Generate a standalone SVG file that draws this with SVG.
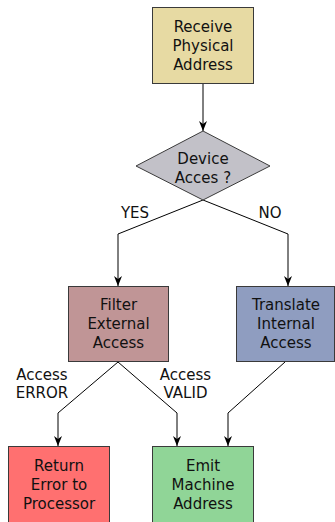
<svg xmlns="http://www.w3.org/2000/svg" width="335" height="522" viewBox="0 0 335 522">
  <defs>
    <style>
      .box { stroke: #3a3a3a; stroke-width: 1; }
      .lbl { font-family: "DejaVu Sans", sans-serif; font-size: 15px; fill: #111; text-anchor: middle; }
      .edge { fill: none; stroke: #000; stroke-width: 1; marker-end: url(#arrow); }
    </style>
    <marker id="arrow" viewBox="0 0 10 10" refX="10" refY="5" markerWidth="10" markerHeight="10" markerUnits="userSpaceOnUse" orient="auto">
      <path d="M0,1 L10,5 L0,9 L3,5 Z" fill="#000"/>
    </marker>
  </defs>
  <rect width="335" height="522" fill="#fff"/>

  <g id="edges">
    <path class="edge" d="M203,83 L203,131"/>
    <path class="edge" d="M203,200 L118,234 L118,286"/>
    <path class="edge" d="M203,200 L288,234 L288,286"/>
    <path class="edge" d="M118,362 L58,413 L58,446"/>
    <path class="edge" d="M118,362 L177,413 L177,446"/>
    <path class="edge" d="M285,362 L228,413 L228,446"/>
    <text class="lbl" x="135" y="218">YES</text>
    <text class="lbl" x="270" y="218">NO</text>
    <text class="lbl" x="42" y="380">Access</text>
    <text class="lbl" x="42" y="398">ERROR</text>
    <text class="lbl" x="185.5" y="380">Access</text>
    <text class="lbl" x="185.5" y="398">VALID</text>
  </g>

  <g id="receive">
    <rect class="box" x="152.5" y="7.5" width="101" height="76" fill="#e7daa3"/>
    <text class="lbl" x="203" y="32">Receive</text>
    <text class="lbl" x="203" y="51">Physical</text>
    <text class="lbl" x="203" y="70">Address</text>
  </g>

  <g id="device">
    <polygon class="box" points="203,131 270,166 203,200 136,166" fill="#c2c1c8"/>
    <text class="lbl" x="203" y="164">Device</text>
    <text class="lbl" x="203" y="183">Acces ?</text>
  </g>

  <g id="filter">
    <rect class="box" x="68.5" y="286.5" width="100" height="75" fill="#c09596"/>
    <text class="lbl" x="118.5" y="310">Filter</text>
    <text class="lbl" x="118.5" y="329">External</text>
    <text class="lbl" x="118.5" y="348">Access</text>
  </g>

  <g id="translate">
    <rect class="box" x="236.5" y="286.5" width="98" height="75" fill="#8f9dc0"/>
    <text class="lbl" x="286" y="310">Translate</text>
    <text class="lbl" x="286" y="329">Internal</text>
    <text class="lbl" x="286" y="348">Access</text>
  </g>

  <g id="return">
    <rect class="box" x="8.5" y="446.5" width="101" height="80" fill="#ff7070"/>
    <text class="lbl" x="59" y="471">Return</text>
    <text class="lbl" x="59" y="490">Error to</text>
    <text class="lbl" x="59" y="509">Processor</text>
  </g>

  <g id="emit">
    <rect class="box" x="152.5" y="446.5" width="101" height="80" fill="#90d597"/>
    <text class="lbl" x="203" y="471">Emit</text>
    <text class="lbl" x="203" y="490">Machine</text>
    <text class="lbl" x="203" y="509">Address</text>
  </g>
</svg>
